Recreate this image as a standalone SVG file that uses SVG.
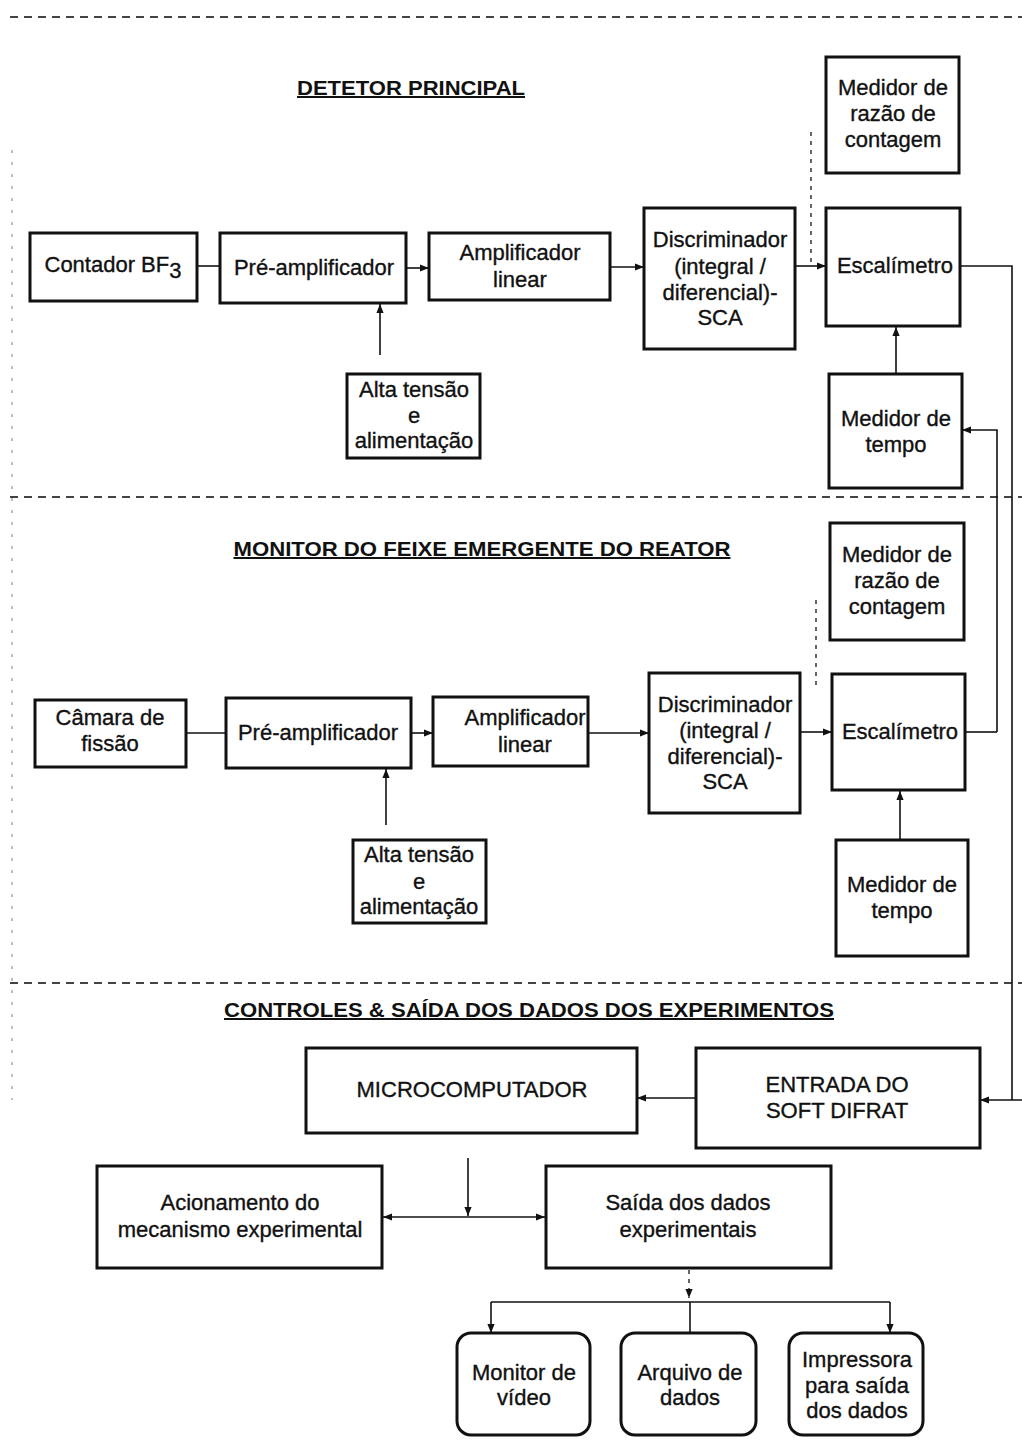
<svg xmlns="http://www.w3.org/2000/svg" width="1022" height="1447" viewBox="0 0 1022 1447">
<defs>
<marker id="ah" viewBox="0 0 10 10" refX="10" refY="5" markerWidth="9" markerHeight="9" markerUnits="userSpaceOnUse" orient="auto-start-reverse">
<path d="M0,1 L10,5 L0,9 z" fill="#111"/>
</marker>
<style>
text{font-family:"Liberation Sans",Arial,sans-serif;font-size:22px;fill:#111;stroke:#111;stroke-width:0.35;text-anchor:middle}
.t{font-size:20px;font-weight:bold;text-decoration:underline;stroke-width:0}
.b{fill:#fff;stroke:#111;stroke-width:3}
.c{fill:none;stroke:#111;stroke-width:1.6}
.a{marker-end:url(#ah)}
.sep{fill:none;stroke:#444;stroke-width:2;stroke-dasharray:8 6}
.fa{fill:none;stroke:#aaa;stroke-width:1.5;stroke-dasharray:3 9}
.dot{fill:none;stroke:#333;stroke-width:1.5;stroke-dasharray:4 5}
</style>
</defs>
<rect width="1022" height="1447" fill="#fff"/>
<g id="separators">
<line class="sep" x1="10" y1="17" x2="1022" y2="17" stroke-width="3" stroke="#222"/>
<line class="sep" x1="10" y1="497" x2="1022" y2="497" stroke-dasharray="5 6"/>
<line class="sep" x1="10" y1="983" x2="1022" y2="983" stroke-dasharray="5 6"/>
<line class="fa" x1="12" y1="150" x2="12" y2="1100"/>
</g>
<g id="titles">
<text class="t" x="411" y="95" textLength="228" lengthAdjust="spacingAndGlyphs">DETETOR PRINCIPAL</text>
<text class="t" x="482" y="556" textLength="497" lengthAdjust="spacingAndGlyphs">MONITOR DO FEIXE EMERGENTE DO REATOR</text>
<text class="t" x="529" y="1017" textLength="610" lengthAdjust="spacingAndGlyphs">CONTROLES &amp; SAÍDA DOS DADOS DOS EXPERIMENTOS</text>
</g>
<g id="connectors">
<line class="c" x1="197" y1="266" x2="220" y2="266"/>
<line class="c a" x1="406" y1="268" x2="429" y2="268"/>
<line class="c a" x1="380" y1="355" x2="380" y2="304"/>
<line class="c a" x1="610" y1="267" x2="644" y2="267"/>
<line class="c a" x1="795" y1="266" x2="826" y2="266"/>
<line class="dot" x1="811" y1="132" x2="811" y2="262"/>
<line class="c a" x1="896" y1="374" x2="896" y2="327"/>
<polyline class="c" points="960,266 1012,266 1012,1100"/>
<polyline class="c a" points="997,732 997,430 962,430"/>
<line class="c" x1="186" y1="733" x2="226" y2="733" stroke="#888"/>
<line class="c a" x1="411" y1="733" x2="433" y2="733"/>
<line class="c a" x1="386" y1="825" x2="386" y2="769"/>
<line class="c a" x1="588" y1="733" x2="649" y2="733"/>
<line class="c a" x1="800" y1="732" x2="832" y2="732"/>
<line class="dot" x1="816" y1="600" x2="816" y2="688"/>
<line class="c a" x1="900" y1="840" x2="900" y2="791"/>
<line class="c" x1="965" y1="732" x2="997" y2="732"/>
<line class="c a" x1="1022" y1="1100" x2="980" y2="1100"/>
<line class="c a" x1="696" y1="1098" x2="637" y2="1098"/>
<line class="c a" x1="468" y1="1158" x2="468" y2="1216"/>
<line class="c a" x1="383" y1="1217" x2="545" y2="1217" stroke-width="2.5" marker-start="url(#ah)"/>
<line class="dot a" x1="689" y1="1270" x2="689" y2="1298"/>
<polyline class="c" points="491,1302 890,1302" stroke="#555"/>
<line class="c a" x1="491" y1="1302" x2="491" y2="1333"/>
<line class="c" x1="690" y1="1302" x2="690" y2="1333"/>
<line class="c a" x1="890" y1="1302" x2="890" y2="1333"/>
</g>
<g id="n-contador"><rect class="b" x="30" y="233" width="167" height="68"/><text x="113" y="272">Contador BF<tspan dy="6">3</tspan></text></g>
<g id="n-preamp1"><rect class="b" x="220" y="233" width="186" height="70"/><text x="314" y="275">Pré-amplificador</text></g>
<g id="n-amp1"><rect class="b" x="429" y="233" width="181" height="67"/><text x="520" y="260">Amplificador</text><text x="520" y="287">linear</text></g>
<g id="n-disc1"><rect class="b" x="644" y="208" width="151" height="141"/><text x="720" y="247">Discriminador</text><text x="720" y="274">(integral /</text><text x="720" y="300">diferencial)-</text><text x="720" y="325">SCA</text></g>
<g id="n-esc1"><rect class="b" x="826" y="208" width="134" height="118"/><text x="895" y="273">Escalímetro</text></g>
<g id="n-razao1"><rect class="b" x="826" y="57" width="133" height="116"/><text x="893" y="95">Medidor de</text><text x="893" y="121">razão de</text><text x="893" y="147">contagem</text></g>
<g id="n-tempo1"><rect class="b" x="829" y="374" width="133" height="114"/><text x="896" y="426">Medidor de</text><text x="896" y="452">tempo</text></g>
<g id="n-alta1"><rect class="b" x="347" y="374" width="133" height="84"/><text x="414" y="397">Alta tensão</text><text x="414" y="423">e</text><text x="414" y="448">alimentação</text></g>
<g id="n-camara"><rect class="b" x="35" y="700" width="151" height="67"/><text x="110" y="725">Câmara de</text><text x="110" y="751">fissão</text></g>
<g id="n-preamp2"><rect class="b" x="226" y="698" width="185" height="70"/><text x="318" y="740">Pré-amplificador</text></g>
<g id="n-amp2"><rect class="b" x="433" y="697" width="155" height="69"/><text x="525" y="725">Amplificador</text><text x="525" y="752">linear</text></g>
<g id="n-disc2"><rect class="b" x="649" y="673" width="151" height="140"/><text x="725" y="712">Discriminador</text><text x="725" y="738">(integral /</text><text x="725" y="764">diferencial)-</text><text x="725" y="789">SCA</text></g>
<g id="n-esc2"><rect class="b" x="832" y="674" width="133" height="116"/><text x="900" y="739">Escalímetro</text></g>
<g id="n-razao2"><rect class="b" x="830" y="523" width="134" height="117"/><text x="897" y="562">Medidor de</text><text x="897" y="588">razão de</text><text x="897" y="614">contagem</text></g>
<g id="n-tempo2"><rect class="b" x="836" y="840" width="132" height="116"/><text x="902" y="892">Medidor de</text><text x="902" y="918">tempo</text></g>
<g id="n-alta2"><rect class="b" x="353" y="840" width="133" height="83"/><text x="419" y="862">Alta tensão</text><text x="419" y="889">e</text><text x="419" y="914">alimentação</text></g>
<g id="n-micro"><rect class="b" x="306" y="1048" width="331" height="85"/><text x="472" y="1097" textLength="231" lengthAdjust="spacingAndGlyphs">MICROCOMPUTADOR</text></g>
<g id="n-entrada"><rect class="b" x="696" y="1048" width="284" height="100"/><text x="837" y="1092">ENTRADA DO</text><text x="837" y="1118">SOFT DIFRAT</text></g>
<g id="n-acion"><rect class="b" x="97" y="1166" width="285" height="102"/><text x="240" y="1210">Acionamento do</text><text x="240" y="1237">mecanismo experimental</text></g>
<g id="n-saida"><rect class="b" x="546" y="1166" width="285" height="102"/><text x="688" y="1210">Saída dos dados</text><text x="688" y="1237">experimentais</text></g>
<g id="n-monitor"><rect class="b" x="457" y="1333" width="133" height="102" rx="14"/><text x="524" y="1380">Monitor de</text><text x="524" y="1405">vídeo</text></g>
<g id="n-arquivo"><rect class="b" x="621" y="1333" width="135" height="102" rx="14"/><text x="690" y="1380">Arquivo de</text><text x="690" y="1405">dados</text></g>
<g id="n-impressora"><rect class="b" x="789" y="1333" width="134" height="102" rx="14"/><text x="857" y="1367">Impressora</text><text x="857" y="1393">para saída</text><text x="857" y="1418">dos dados</text></g>
</svg>
